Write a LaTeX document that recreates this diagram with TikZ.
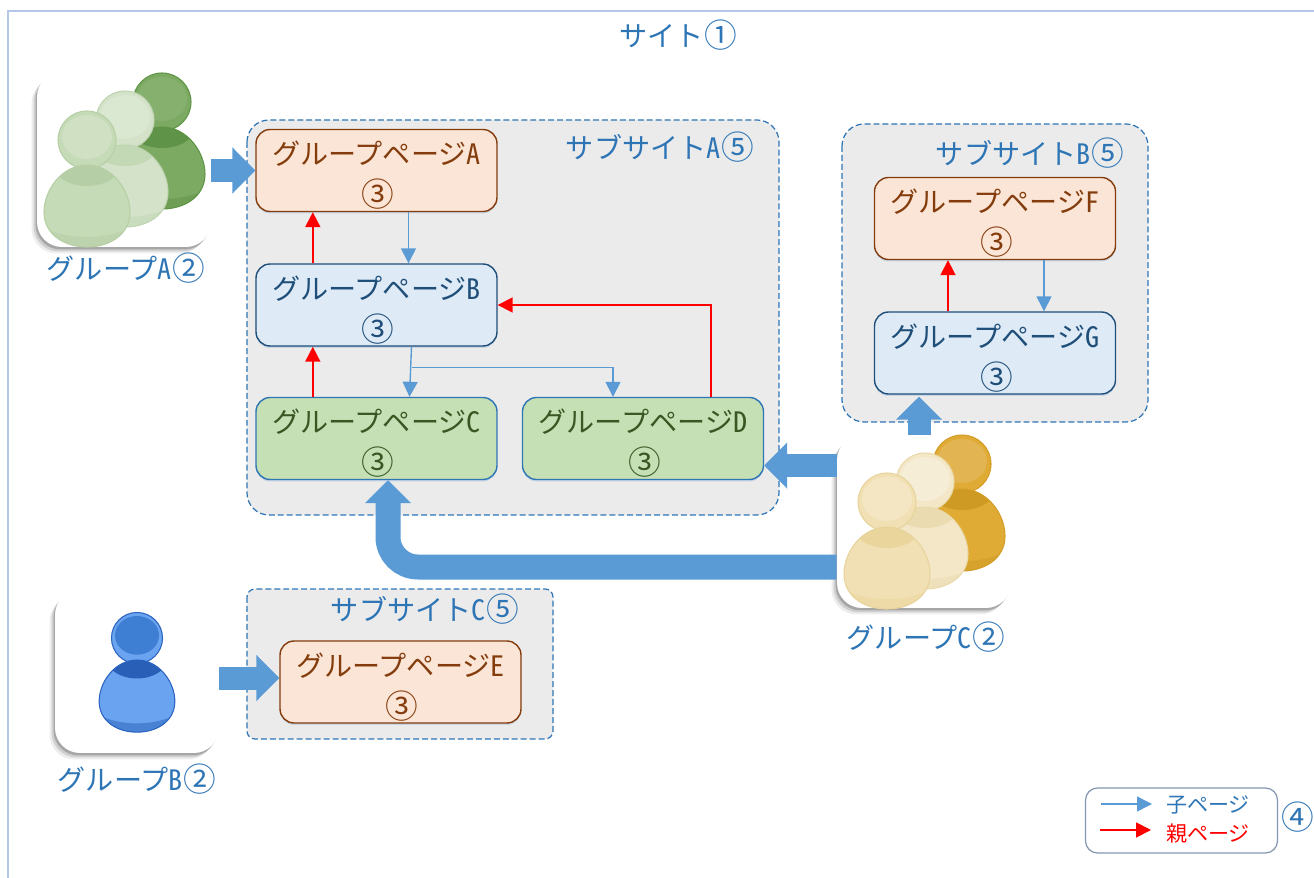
\documentclass[tikz,border=0pt]{standalone}
\usepackage{fontspec}
\setmainfont{Noto Sans CJK JP}
\newfontfamily\cjk{Noto Sans CJK JP}
\newfontfamily\hw[CharacterWidth=Half]{Noto Sans CJK JP}
\usetikzlibrary{arrows.meta}
\usetikzlibrary{calc}
\usetikzlibrary{shadows}

\definecolor{linkblue}{HTML}{5B9BD5}
\definecolor{textblue}{HTML}{2E75B6}
\definecolor{peachfill}{HTML}{FBE5D6}
\definecolor{peachline}{HTML}{843C0C}
\definecolor{bluefill}{HTML}{DEEBF7}
\definecolor{blueline}{HTML}{1F4E79}
\definecolor{greenfill}{HTML}{C5E0B4}
\definecolor{greentext}{HTML}{385723}
\definecolor{sitefill}{HTML}{EBEBEB}
\definecolor{frameline}{HTML}{B4C7E7}
\definecolor{legendline}{HTML}{8497B0}

% circled numbers are larger than the kana beside them
\newcommand{\cnum}[1]{\hspace{.1em}\makebox[1.02em]{\fontsize{18.6}{18}\selectfont\raisebox{-.5pt}{#1}}}
\newcommand{\pagetext}[1]{\rule{0pt}{19pt}グループページ{\hw #1}\\\cnum{③}}

\tikzset{
    pagebox/.style={draw,rounded corners=.28cm,minimum width=4.82cm,minimum height=1.64cm,inner sep=0pt,align=center,line width=.8pt,font=\cjk\fontsize{16}{23.6}\selectfont,
        drop shadow={shadow xshift=0pt,shadow yshift=-.04cm,opacity=.25,fill=linkblue}},
    pagepeach/.style={pagebox,fill=peachfill,draw=peachline,text=peachline},
    pageblue/.style={pagebox,fill=bluefill,draw=blueline,text=blueline},
    pagegreen/.style={pagebox,fill=greenfill,draw=textblue,text=greentext},
    subsite/.style={draw=textblue,dash pattern=on 3.4pt off 1.7pt,fill=sitefill,line width=.7pt},
    bluelabel/.style={text=textblue,inner sep=0pt,font=\cjk\fontsize{16}{18}\selectfont},
    icon/.style={fill=white,rounded corners=.5cm,inner sep=0pt,
        drop shadow={shadow xshift=-.11cm,shadow yshift=-.13cm,opacity=.07,fill=black},
        drop shadow={shadow xshift=-.07cm,shadow yshift=-.09cm,opacity=.12,fill=black},
        drop shadow={shadow xshift=-.03cm,shadow yshift=-.05cm,opacity=.2,fill=black}},
    childarrow/.style={draw=linkblue,line width=.8pt,-{Triangle[length=.3cm,width=.3cm]}},
    parentarrow/.style={draw=red,line width=1pt,-{Triangle[length=.3cm,width=.3cm]}},
    bigarrow/.style={draw=linkblue,line width=.46cm,-{Triangle[length=.46cm,width=.9cm]}},
    pics/person/.style n args={4}{code={
        \definecolor{pbody}{HTML}{#1}
        \definecolor{pedge}{HTML}{#2}
        \definecolor{pshine}{HTML}{#3}
        \definecolor{pcollar}{HTML}{#4}
        \path[fill=pbody,draw=pedge,line width=.6pt] (0,0) circle (29);
        \path[fill=pshine] (0,-3) ellipse (25 and 22);
        \begin{scope}
            \path[clip] (0,25) .. controls (25,25) and (43,50) .. (43,72) .. controls (43,95) and (22,107) .. (0,107) .. controls (-22,107) and (-43,95) .. (-43,72) .. controls (-43,50) and (-25,25) .. (0,25) -- cycle;
            \path[fill=pbody] (-50,20) rectangle (50,110);
            \path[fill=pcollar] (0,24) ellipse (34 and 22);
            \path[fill=pcollar,opacity=.5,even odd rule] (-50,20) rectangle (50,110) (0,55) ellipse (70 and 42);
        \end{scope}
        \path[draw=pedge,line width=.6pt] (0,25) .. controls (25,25) and (43,50) .. (43,72) .. controls (43,95) and (22,107) .. (0,107) .. controls (-22,107) and (-43,95) .. (-43,72) .. controls (-43,50) and (-25,25) .. (0,25) -- cycle;
    }}
}

\begin{document}
\begin{tikzpicture}[x=.02cm,y=-.02cm]
    \useasboundingbox (0,0) rectangle (1314,878);
    \draw[color=frameline,line width=.7pt] (8,878) -- (8,11) -- (1314,11);
    \node[bluelabel] (site) at (677,35) {サイト\cnum{①}};

    \draw[subsite,rounded corners=.44cm] (247,120) rectangle (779,515);
    \draw[subsite,rounded corners=.44cm] (842,124) rectangle (1148,422);
    \draw[subsite,rounded corners=.16cm] (247,589) rectangle (553,739);
    \node[bluelabel] (subA) at (659,147) {サブサイト{\hw A}\cnum{⑤}};
    \node[bluelabel] (subB) at (1029,153) {サブサイト{\hw B}\cnum{⑤}};
    \node[bluelabel] (subC) at (424,609) {サブサイト{\hw C}\cnum{⑤}};

    \node[pagepeach] (pageA) at (376.5,170.5) {\pagetext{A}};
    \node[pageblue] (pageB) at (376.5,305) {\pagetext{B}};
    \node[pagegreen] (pageC) at (376.5,438.5) {\pagetext{C}};
    \node[pagegreen] (pageD) at (643,438.5) {\pagetext{D}};
    \node[pagepeach] (pageE) at (400.5,682) {\pagetext{E}};
    \node[pagepeach] (pageF) at (995,218.5) {\pagetext{F}};
    \node[pageblue] (pageG) at (995,353) {\pagetext{G}};

    \node[icon,minimum width=3.48cm,minimum height=3.5cm] (grpA) at (124,159.5) {};
    \node[icon,minimum width=3.28cm,minimum height=3.26cm] (grpB) at (137,671.5) {};
    \node[icon,minimum width=3.48cm,minimum height=3.46cm] (grpC) at (924,521.5) {};
    \node[bluelabel] (labelA) at (125,268) {グループ{\hw A}\cnum{②}};
    \node[bluelabel] (labelB) at (136,779) {グループ{\hw B}\cnum{②}};
    \node[bluelabel] (labelC) at (925,637) {グループ{\hw C}\cnum{②}};

    \pic at (162,102) {person={7DAA63}{5E9444}{86B06E}{5F9347}};
    \pic at (125,120) {person={D3E2C8}{BFD4B0}{DAE7D1}{C3D8B5}};
    \pic at (87,140) {person={C5DAB6}{B6CFA5}{CFE0C3}{B5CEA5}};
    \pic at (962,464) {person={DFAB35}{D49E28}{E3B552}{CF9A24}};
    \pic at (925,482) {person={F3E7C8}{EAD9A8}{F6EDD6}{EBDBB0}};
    \pic at (887,502) {person={F1E0B4}{E8D39A}{F4E6C3}{EAD59C}};
    \pic[scale=.88] at (137,638) {person={6AA4F0}{2A63C0}{3E7FD4}{2A5FB8}};

    \draw[childarrow] ($(pageA.south)+(32,0)$) to ($(pageB.north)+(32,0)$);
    \draw[parentarrow] ($(pageB.north)+(-63.7,0)$) to ($(pageA.south)+(-63.7,0)$);
    \draw[childarrow] ($(pageB.south)+(35,0)$) to ($(pageC.north)+(33,0)$);
    \draw[childarrow] ($(pageB.south)+(35,21)$) -| (pageD.north -| 613,0);
    \draw[parentarrow] ($(pageC.north)+(-63.7,0)$) to ($(pageB.south)+(-63.7,0)$);
    \draw[parentarrow] ($(pageD.north)+(68,0)$) |- (pageB.east);
    \draw[childarrow] ($(pageF.south)+(49,0)$) to ($(pageG.north)+(49,0)$);
    \draw[parentarrow] ($(pageG.north)+(-47,0)$) to ($(pageF.south)+(-47,0)$);

    \draw[bigarrow] (grpA.east |- pageA.west) to (pageA.west);
    \draw[bigarrow] ($(grpB.east |- pageE.west)+(0,-4)$) to ($(pageE.west)+(0,-4)$);
    \draw[bigarrow] ($(grpC.west |- pageD.east)+(0,27)$) to ($(pageD.east)+(0,27)$);
    \draw[bigarrow] ($(grpC.north)+(-5,0)$) to ($(grpC.north |- pageG.south)+(-5,2)$);
    \draw[bigarrow,line width=.5cm,rounded corners=.6cm] (grpC.west |- 0,567) -- (388,567) -- ($(pageC.south)+(11.5,0)$);

    \node[draw=legendline,line width=.7pt,rounded corners=.24cm,minimum width=3.84cm,minimum height=1.3cm] (legend) at (1181.5,820.5) {};
    \coordinate (childA) at (1101,804);
    \coordinate (childB) at (1152,804);
    \coordinate (parentA) at (1100,830);
    \coordinate (parentB) at (1151,830);
    \draw[childarrow] (childA) to (childB);
    \draw[parentarrow] (parentA) to (parentB);
    \node[text=textblue,inner sep=0pt,font=\cjk\fontsize{12}{14}\selectfont] (childtext) at (1208,805) {子ページ};
    \node[text=red,inner sep=0pt,font=\cjk\fontsize{12}{14}\selectfont] (parenttext) at (1208,834) {親ページ};
    \node[bluelabel] (legendno) at (1296,817) {\cnum{④}};
\end{tikzpicture}
\end{document}
